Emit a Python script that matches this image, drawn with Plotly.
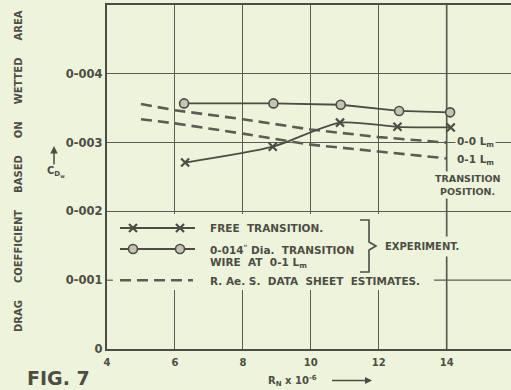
import plotly.graph_objects as go

# ---------------- data ----------------
rn_free = [6.30, 8.88, 10.86, 12.55, 14.12]
cd_free = [0.00271, 0.00294, 0.00329, 0.00323, 0.00322]

rn_wire = [6.27, 8.90, 10.88, 12.60, 14.10]
cd_wire = [0.00357, 0.00357, 0.00355, 0.00346, 0.00344]

rn_est = [5.0, 6.0, 8.0, 10.0, 12.0, 14.0]
cd_est_00 = [0.00356, 0.00347, 0.00334, 0.00319, 0.00308, 0.00300]
cd_est_01 = [0.00334, 0.00328, 0.00313, 0.00297, 0.00287, 0.00277]

x_ticks = [4, 6, 8, 10, 12, 14]
x_tick_labels = ["4", "6", "8", "10", "12", "14"]
y_ticks = [0, 0.001, 0.002, 0.003, 0.004]
y_tick_labels = ["0", "0-001", "0-002", "0-003", "0-004"]

# ---------------- styling ----------------
W, H = 511, 390
ML, MR, MT, MB = 107, 0, 5, 41
BG = "#edf4db"
INK = "#4d4d45"
GRID = "#5c5c52"
FONT = "DejaVu Sans"
X_RANGE = [4, 4 + (W - ML - MR) / 33.97]
Y_RANGE = [0, 0.005]

PW = W - ML - MR
PH = H - MT - MB


def px(x):
    return (x - ML) / PW


def py(y):
    return (H - MB - y) / PH


def dx(x):
    return X_RANGE[0] + (x - ML) / PW * (X_RANGE[1] - X_RANGE[0])


def dy(y):
    return Y_RANGE[0] + (H - MB - y) / PH * (Y_RANGE[1] - Y_RANGE[0])


fig = go.Figure()

# R.Ae.S. estimates (dashed)
for yy in (cd_est_00, cd_est_01):
    fig.add_trace(go.Scatter(x=rn_est, y=yy, mode="lines",
                             line=dict(color=GRID, width=2.6, dash="11px,6px"),
                             showlegend=False, hoverinfo="skip"))

# transition wire
fig.add_trace(go.Scatter(x=rn_wire, y=cd_wire, mode="lines+markers",
                         line=dict(color=INK, width=1.8),
                         marker=dict(symbol="circle", size=9, color="#c4c4b4",
                                     line=dict(color=INK, width=1.6)),
                         showlegend=False, hoverinfo="skip"))

# free transition
fig.add_trace(go.Scatter(x=rn_free, y=cd_free, mode="lines+markers",
                         line=dict(color=INK, width=1.8, shape="spline", smoothing=0.7),
                         marker=dict(symbol="x-thin-open", size=8, color=INK,
                                     line=dict(color=INK, width=2.2)),
                         showlegend=False, hoverinfo="skip"))

# ---------------- hand-drawn legend samples ----------------
row1, row2, row3 = dy(228), dy(249), 0.001
fig.add_trace(go.Scatter(x=[dx(120), dx(195)], y=[row1, row1], mode="lines",
                         line=dict(color=INK, width=1.8), showlegend=False, hoverinfo="skip"))
fig.add_trace(go.Scatter(x=[dx(133), dx(180)], y=[row1, row1], mode="markers",
                         marker=dict(symbol="x-thin-open", size=8, color=INK,
                                     line=dict(color=INK, width=2.2)),
                         showlegend=False, hoverinfo="skip"))
fig.add_trace(go.Scatter(x=[dx(120), dx(195)], y=[row2, row2], mode="lines",
                         line=dict(color=INK, width=1.8), showlegend=False, hoverinfo="skip"))
fig.add_trace(go.Scatter(x=[dx(133), dx(180)], y=[row2, row2], mode="markers",
                         marker=dict(symbol="circle", size=9, color="#c4c4b4",
                                     line=dict(color=INK, width=1.6)),
                         showlegend=False, hoverinfo="skip"))
fig.add_trace(go.Scatter(x=[dx(120), dx(193)], y=[row3, row3], mode="lines",
                         line=dict(color=GRID, width=2.6, dash="11px,6px"),
                         showlegend=False, hoverinfo="skip"))

shapes = [
    # blank the grid behind the legend
    dict(type="rect", xref="x", yref="y", x0=X_RANGE[0], x1=X_RANGE[1],
         y0=dy(290), y1=dy(214), fillcolor=BG, line=dict(width=0), layer="between"),
    # 0.001 line continues right of the legend text
    dict(type="line", xref="x", yref="y", x0=dx(434), x1=X_RANGE[1], y0=0.001, y1=0.001,
         line=dict(color=GRID, width=1.2), layer="between"),
    # small tick on the axis at 0.001
    dict(type="line", xref="x", yref="y", x0=4, x1=dx(113), y0=0.001, y1=0.001,
         line=dict(color=GRID, width=1.2), layer="between"),
    # transition position line
    dict(type="line", xref="x", yref="y", x0=14, x1=14, y0=0, y1=0.005,
         line=dict(color=GRID, width=1.7), layer="between"),
    # brace
    dict(type="path", xref="paper", yref="paper",
         path=(f"M {px(360)},{py(220)} L {px(369)},{py(220)} L {px(369)},{py(242)} "
               f"L {px(376)},{py(246)} L {px(369)},{py(250)} L {px(369)},{py(272)} "
               f"L {px(360)},{py(272)}"),
         line=dict(color=INK, width=1.6), layer="above"),
    # arrow on x title
    dict(type="line", xref="paper", yref="paper", x0=px(332), x1=px(368),
         y0=py(380.5), y1=py(380.5), line=dict(color=INK, width=1.4)),
]


def txt(x, y, s, size=10.5, xanchor="left", bg=None, **kw):
    d = dict(xref="paper", yref="paper", x=px(x), y=py(y), text=s, showarrow=False,
             xanchor=xanchor, yanchor="middle",
             font=dict(family=FONT, size=size, color=INK, weight="bold"))
    if bg:
        d.update(bgcolor=bg, borderpad=1)
    d.update(kw)
    return d


SP = "\u2003\u2002\u2009"
annotations = [
    txt(208, 228, "FREE  TRANSITION."),
    txt(208, 250, "0-014<sup>\"</sup> Dia.  TRANSITION"),
    txt(208, 263, "WIRE  AT  0-1 L<sub>m</sub>"),
    txt(380, 246, "EXPERIMENT.", size=10, bg=BG, borderpad=4),
    txt(208, 281, "R. Ae. S.  DATA  SHEET  ESTIMATES.", bg=BG),
    txt(455, 142, "0-0 L<sub>m</sub>", bg=BG),
    txt(455, 160, "0-1 L<sub>m</sub>", bg=BG),
    txt(433, 178, "TRANSITION", size=9.5, bg=BG),
    txt(438, 191, "POSITION.", size=9.5, bg=BG),
    txt(18, 171, SP.join(["DRAG", "COEFFICIENT", "BASED", "ON", "WETTED", "AREA"]),
        size=10, xanchor="center", textangle=-90),
    txt(45, 172, "C<sub>D<sub>w</sub></sub>", size=10),
    txt(58, 378, "FIG. 7", size=19, xanchor="center"),
    txt(266, 381, "R<sub>N</sub> x 10<sup>-6</sup>", size=10),
    # upward arrow next to C_Dw
    dict(xref="paper", yref="paper", x=px(54), y=py(146), ax=0, ay=20, text="",
         showarrow=True, arrowhead=2, arrowsize=1, arrowwidth=1.5, arrowcolor=INK),
    dict(xref="paper", yref="paper", x=px(372), y=py(380.5), ax=-6, ay=0, text="",
         showarrow=True, arrowhead=2, arrowsize=1, arrowwidth=1.4, arrowcolor=INK),
]

fig.update_layout(
    width=W, height=H,
    margin=dict(l=ML, r=MR, t=MT, b=MB, pad=0),
    paper_bgcolor=BG, plot_bgcolor=BG,
    shapes=shapes, annotations=annotations,
    showlegend=False,
    xaxis=dict(range=X_RANGE, tickvals=x_ticks, ticktext=x_tick_labels,
               showgrid=True, gridcolor=GRID, gridwidth=1.2,
               showline=True, linecolor=INK, linewidth=2.2, mirror=True,
               zeroline=False, ticks="", ticklabelstandoff=3,
               tickfont=dict(family=FONT, size=10, color=INK, weight="bold")),
    yaxis=dict(range=Y_RANGE, tickvals=y_ticks, ticktext=y_tick_labels,
               showgrid=True, gridcolor=GRID, gridwidth=1.2,
               showline=True, linecolor=INK, linewidth=2.2, mirror=False,
               zeroline=False, ticks="",
               tickfont=dict(family=FONT, size=11.5, color=INK, weight="bold")),
)

fig.write_html("out.html",
               config={"displayModeBar": False},
               post_script="document.body.style.margin='0';"
                           "document.body.style.overflow='hidden';"
                           "document.body.style.background='" + BG + "';")
